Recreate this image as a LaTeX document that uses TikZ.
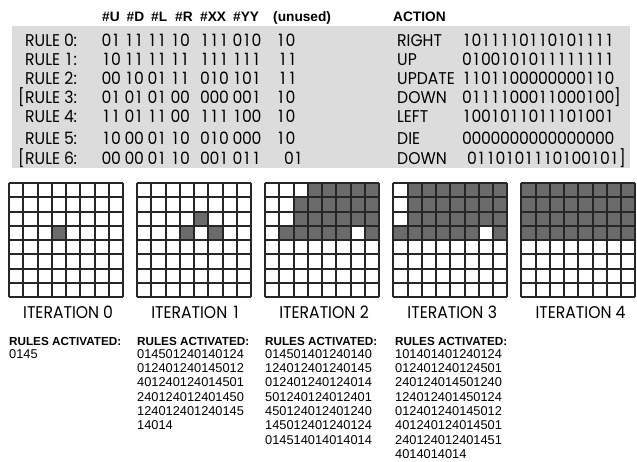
\documentclass[tikz,border=0pt]{standalone}
\usepackage{fontspec}
\setmainfont{Liberation Sans}
\newfontfamily\gothic[FakeStretch=0.92]{Poppins}
\definecolor{bandgray}{HTML}{DCDCDC}
\definecolor{cellgray}{HTML}{6B6B6B}
\definecolor{gridline}{HTML}{262626}
\newlength\dgw \setlength\dgw{9.5pt}
\newlength\dgsp \setlength\dgsp{4pt}
\def\dotmark{.}
\makeatletter
\newcommand\digs[1]{\@tfor\dd:=#1\do{\ifx\dd\dotmark\hspace{\dgsp}\else\makebox[\dgw][c]{\dd}\fi}}
\makeatother
\tikzset{
  hdr/.style={font=\bfseries\fontsize{13.7}{13.7}\selectfont, inner sep=0pt, anchor=base west},
  tbl/.style={font=\gothic\fontsize{17}{17}\selectfont, inner sep=0pt, anchor=base west},
  brk/.style={font=\gothic\fontsize{17}{17}\selectfont, inner sep=0pt, anchor=base east},
  itlab/.style={font=\gothic\fontsize{17}{17}\selectfont, inner sep=0pt, anchor=base},
  acthdr/.style={font=\bfseries\fontsize{11.7}{11.7}\selectfont, inner sep=0pt, anchor=base west},
  acttxt/.style={font=\fontsize{12.8}{12.8}\selectfont, inner sep=0pt, anchor=base west},
  gridln/.style={draw=gridline, line width=1.2pt},
  cellfill/.style={fill=cellgray}
}
\newcommand\fillcell[3]{%
  \fill[cellfill] ({round(9+128.1*#1+14.25*#2)},{round(183+14.25*#3)}) rectangle
    ({round(9+128.1*#1+14.25*(#2+1))},{round(183+14.25*(#3+1))});}
\begin{document}
\begin{tikzpicture}[x=1pt,y=-1pt]
\useasboundingbox (0,0) rectangle (637,461);
% grey band
\fill[bandgray] (12,26) rectangle (630,168);
% header
\node[hdr] (hU) at (102,21.5) {\#U};
\node[hdr] (hD) at (126.5,21.5) {\#D};
\node[hdr] (hL) at (151,21.5) {\#L};
\node[hdr] (hR) at (175,21.5) {\#R};
\node[hdr] (hXX) at (200,21.5) {\#XX};
\node[hdr] (hYY) at (233,21.5) {\#YY};
\node[hdr] (hun) at (273,21.5) {(unused)};
\node[hdr] (hact) at (393,21.5) {ACTION};
% rule rows
\node[tbl] (r0) at (25,46.5) {RULE \digs{0}:};
\node[tbl] (r1) at (25,65.5) {RULE \digs{1}:};
\node[tbl] (r2) at (25,84) {RULE \digs{2}:};
\node[tbl] (r3) at (25,103) {RULE \digs{3}:};
\node[brk] (b3) at (25,103) {[};
\node[tbl] (r4) at (25,122) {RULE \digs{4}:};
\node[tbl] (r5) at (25,144) {RULE \digs{5}:};
\node[tbl] (r6) at (25,164) {RULE \digs{6}:};
\node[brk] (b6) at (25,164) {[};
% group A
\node[tbl] (a0) at (101.5,46.5) {\digs{01.11.11.10}};
\node[tbl] (a1) at (101.5,65.5) {\digs{10.11.11.11}};
\node[tbl] (a2) at (101.5,84) {\digs{00.10.01.11}};
\node[tbl] (a3) at (101.5,103) {\digs{01.01.01.00}};
\node[tbl] (a4) at (101.5,122) {\digs{11.01.11.00}};
\node[tbl] (a5) at (101.5,144) {\digs{10.00.01.10}};
\node[tbl] (a6) at (101.5,164) {\digs{00.00.01.10}};
% group B
\node[tbl] (g0) at (200,46.5) {\digs{111.010}};
\node[tbl] (g1) at (200,65.5) {\digs{111.111}};
\node[tbl] (g2) at (200,84) {\digs{010.101}};
\node[tbl] (g3) at (200,103) {\digs{000.001}};
\node[tbl] (g4) at (200,122) {\digs{111.100}};
\node[tbl] (g5) at (200,144) {\digs{010.000}};
\node[tbl] (g6) at (200,164) {\digs{001.011}};
% unused
\node[tbl] (u0) at (276,46.5) {\digs{10}};
\node[tbl] (u1) at (278,65.5) {\digs{11}};
\node[tbl] (u2) at (278,84) {\digs{11}};
\node[tbl] (u3) at (276,103) {\digs{10}};
\node[tbl] (u4) at (276,122) {\digs{10}};
\node[tbl] (u5) at (276,144) {\digs{10}};
\node[tbl] (u6) at (284,164) {\digs{01}};
% action
\node[tbl] (c0) at (397,46.5) {RIGHT};
\node[tbl] (c1) at (397,65.5) {UP};
\node[tbl] (c2) at (397,84) {UPDATE};
\node[tbl] (c3) at (397,103) {DOWN};
\node[tbl] (c4) at (397,122) {LEFT};
\node[tbl] (c5) at (397,144) {DIE};
\node[tbl] (c6) at (397,164) {DOWN};
% bits
\node[tbl] (d0) at (462,46.5) {\digs{1011110110101111}};
\node[tbl] (d1) at (462,65.5) {\digs{0100101011111111}};
\node[tbl] (d2) at (462,84) {\digs{1101100000000110}};
\node[tbl] (d3) at (462,103) {\digs{0111100011000100}]};
\node[tbl] (d4) at (462,122) {\digs{1001011011101001}};
\node[tbl] (d5) at (462,144) {\digs{0000000000000000}};
\node[tbl] (d6) at (467,164) {\digs{0110101110100101}]};
% filled cells
\fillcell{0}{3}{3}
\fillcell{1}{4}{2}\fillcell{1}{3}{3}\fillcell{1}{5}{3}
\foreach \c in {3,...,7} {\fillcell{2}{\c}{0}}
\foreach \c in {2,...,7} {\fillcell{2}{\c}{1}\fillcell{2}{\c}{2}}
\foreach \c in {1,...,5,7} {\fillcell{2}{\c}{3}}
\foreach \c in {1,...,7} {\fillcell{3}{\c}{0}\fillcell{3}{\c}{1}\fillcell{3}{\c}{2}}
\foreach \c in {0,...,5,7} {\fillcell{3}{\c}{3}}
\foreach \c in {0,...,7} {\foreach \r in {0,...,3} {\fillcell{4}{\c}{\r}}}
% grid lines and labels
\foreach \k in {0,...,4} {
  \pgfmathsetmacro\xo{9+128.1*\k}
  \pgfmathsetmacro\xl{round(\xo)}
  \pgfmathsetmacro\xr{round(\xo+114)}
  \foreach \i in {0,...,8} {
    \pgfmathsetmacro\xx{round(\xo+14.25*\i)}
    \pgfmathsetmacro\yy{round(183+14.25*\i)}
    \draw[gridln] (\xx,183) -- (\xx,297);
    \draw[gridln] (\xl,\yy) -- (\xr,\yy);
  }
  \node[itlab] (it\k) at ({\xo+59},318.3) {ITERATION \digs{\k}};
}
% rules activated
\node[acthdr] (ra0) at (9,345.5) {RULES ACTIVATED:};
\node[acthdr] (ra1) at (137,345.5) {RULES ACTIVATED:};
\node[acthdr] (ra2) at (265,345.5) {RULES ACTIVATED:};
\node[acthdr] (ra3) at (395,345.5) {RULES ACTIVATED:};
\node[acttxt] (l0-1) at (9,358.3) {0145};
\foreach \t [count=\i] in {014501240140124,012401240145012,401240124014501,240124012401450,124012401240145,14014}
  {\node[acttxt] (l1-\i) at (137,{358.3+14.3*(\i-1)}) {\t};}
\foreach \t [count=\i] in {014501401240140,124012401240145,012401240124014,501240124012401,450124012401240,145012401240124,014514014014014}
  {\node[acttxt] (l2-\i) at (265,{358.3+14.3*(\i-1)}) {\t};}
\foreach \t [count=\i] in {101401401240124,012401240124501,240124014501240,124012401450124,012401240145012,401240124014501,240124012401451,4014014014}
  {\node[acttxt] (l3-\i) at (395,{358.3+14.3*(\i-1)}) {\t};}
\end{tikzpicture}
\end{document}
